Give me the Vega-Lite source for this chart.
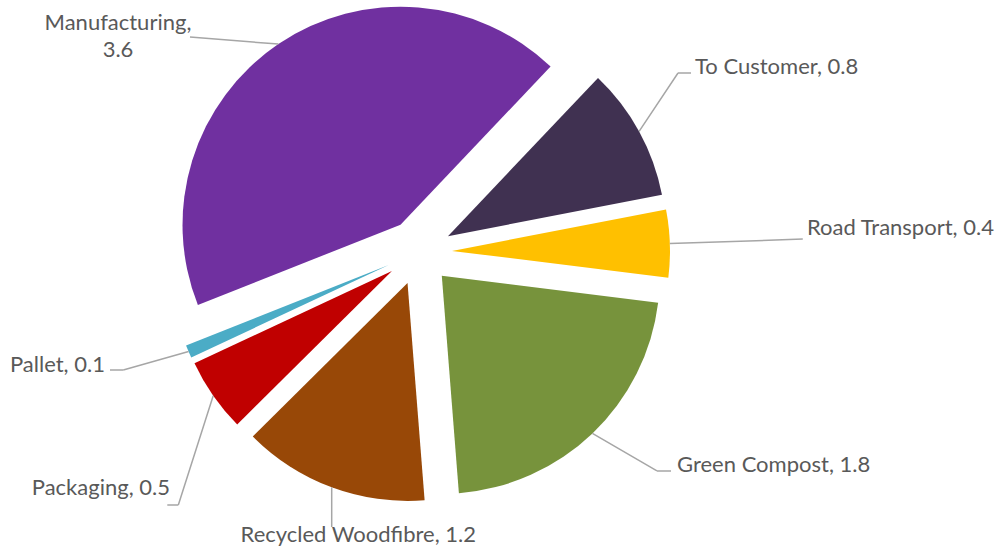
{
  "$schema": "https://vega.github.io/schema/vega-lite/v6.json",
  "width": 838,
  "height": 504,
  "autosize": {"type": "none"},
  "padding": {"left": 0, "top": 0, "right": 166, "bottom": 47},
  "background": "white",
  "config": {
    "view": {"stroke": null},
    "text": {"font": "Lato", "fontSize": 22, "color": "#595959"}
  },
  "data": {
    "values": [
      {"category": "To Customer", "value": 0.83},
      {"category": "Road Transport", "value": 0.42},
      {"category": "Green Compost", "value": 1.83},
      {"category": "Recycled Woodfibre", "value": 1.16},
      {"category": "Packaging", "value": 0.46},
      {"category": "Pallet", "value": 0.08},
      {"category": "Manufacturing", "value": 3.62}
    ]
  },
  "transform": [{"window": [{"op": "row_number", "as": "idx"}]}],
  "encoding": {
    "theta": {"field": "value", "type": "quantitative", "stack": true, "scale": {"domain": [0, 8.4], "range": [0.75922, 7.04241]}},
    "order": {"field": "idx", "type": "quantitative"}
  },
  "layer": [
    {"mark": {"type": "arc", "radius": 218, "xOffset": 28.94, "yOffset": -15.86},
     "encoding": {"color": {"field": "category", "type": "nominal", "legend": null, "scale": {"domain": ["To Customer","Road Transport","Green Compost","Recycled Woodfibre","Packaging","Pallet","Manufacturing"], "range": ["#403151","#FFC000","#77933C","#984807","#C00000","#4BACC6","#7030A0"]}},
       "opacity": {"condition": {"test": "datum.category === 'To Customer'", "value": 1}, "value": 0}}},
    {"mark": {"type": "arc", "radius": 218, "xOffset": 32.98, "yOffset": -1.11},
     "encoding": {"color": {"field": "category", "type": "nominal", "legend": null},
       "opacity": {"condition": {"test": "datum.category === 'Road Transport'", "value": 1}, "value": 0}}},
    {"mark": {"type": "arc", "radius": 218, "xOffset": 22.80, "yOffset": 23.85},
     "encoding": {"color": {"field": "category", "type": "nominal", "legend": null},
       "opacity": {"condition": {"test": "datum.category === 'Green Compost'", "value": 1}, "value": 0}}},
    {"mark": {"type": "arc", "radius": 218, "xOffset": -11.48, "yOffset": 30.94},
     "encoding": {"color": {"field": "category", "type": "nominal", "legend": null},
       "opacity": {"condition": {"test": "datum.category === 'Recycled Woodfibre'", "value": 1}, "value": 0}}},
    {"mark": {"type": "arc", "radius": 218, "xOffset": -27.06, "yOffset": 18.89},
     "encoding": {"color": {"field": "category", "type": "nominal", "legend": null},
       "opacity": {"condition": {"test": "datum.category === 'Packaging'", "value": 1}, "value": 0}}},
    {"mark": {"type": "arc", "radius": 218, "xOffset": -30.30, "yOffset": 13.08},
     "encoding": {"color": {"field": "category", "type": "nominal", "legend": null},
       "opacity": {"condition": {"test": "datum.category === 'Pallet'", "value": 1}, "value": 0}}},
    {"mark": {"type": "arc", "radius": 218, "xOffset": -18.48, "yOffset": -27.34},
     "encoding": {"color": {"field": "category", "type": "nominal", "legend": null},
       "opacity": {"condition": {"test": "datum.category === 'Manufacturing'", "value": 1}, "value": 0}}},

    {"mark": {"type": "arc", "filled": false, "stroke": "#A6A6A6", "strokeWidth": 1.5, "strokeJoin": "bevel", "padAngle": 3.1416, "radius": 88.7, "radius2": 0, "thetaOffset": -0.8960, "theta2Offset": -0.8960, "xOffset": -140.6, "yOffset": -207.9},
     "encoding": {"strokeOpacity": {"condition": {"test": "datum.category === 'Manufacturing'", "value": 1}, "value": 0}}},
    {"mark": {"type": "arc", "filled": false, "stroke": "#A6A6A6", "strokeWidth": 1.5, "strokeJoin": "bevel", "padAngle": 3.1416, "radius": 70.2, "radius2": 0, "thetaOffset": -0.4820, "theta2Offset": -0.4820, "xOffset": 220.1, "yOffset": -120.6},
     "encoding": {"strokeOpacity": {"condition": {"test": "datum.category === 'To Customer'", "value": 1}, "value": 0}}},
    {"mark": {"type": "arc", "filled": false, "stroke": "#A6A6A6", "strokeWidth": 1.5, "strokeJoin": "bevel", "padAngle": 3.1416, "radius": 13, "radius2": 0, "thetaOffset": 0.5011, "theta2Offset": 0.5011, "xOffset": 259, "yOffset": -179},
     "encoding": {"strokeOpacity": {"condition": {"test": "datum.category === 'To Customer'", "value": 1}, "value": 0}}},
    {"mark": {"type": "arc", "filled": false, "stroke": "#A6A6A6", "strokeWidth": 1.5, "strokeJoin": "bevel", "padAngle": 3.1416, "radius": 384, "radius2": 251},
     "encoding": {"strokeOpacity": {"condition": {"test": "datum.category === 'Road Transport'", "value": 1}, "value": 0}}},
    {"mark": {"type": "arc", "filled": false, "stroke": "#A6A6A6", "strokeWidth": 1.5, "strokeJoin": "bevel", "padAngle": 3.1416, "radius": 74.7, "radius2": 0, "thetaOffset": -0.2808, "theta2Offset": -0.2808, "xOffset": 173.4, "yOffset": 181.4},
     "encoding": {"strokeOpacity": {"condition": {"test": "datum.category === 'Green Compost'", "value": 1}, "value": 0}}},
    {"mark": {"type": "arc", "filled": false, "stroke": "#A6A6A6", "strokeWidth": 1.5, "strokeJoin": "bevel", "padAngle": 3.1416, "radius": 14, "radius2": 0, "thetaOffset": -0.8079, "theta2Offset": -0.8079, "xOffset": 238, "yOffset": 219},
     "encoding": {"strokeOpacity": {"condition": {"test": "datum.category === 'Green Compost'", "value": 1}, "value": 0}}},
    {"mark": {"type": "arc", "filled": false, "stroke": "#A6A6A6", "strokeWidth": 1.5, "strokeJoin": "bevel", "padAngle": 3.1416, "radius": 39.7, "radius2": 0, "thetaOffset": -0.3553, "theta2Offset": -0.3553, "xOffset": -87.3, "yOffset": 235.3},
     "encoding": {"strokeOpacity": {"condition": {"test": "datum.category === 'Recycled Woodfibre'", "value": 1}, "value": 0}}},
    {"mark": {"type": "arc", "filled": false, "stroke": "#A6A6A6", "strokeWidth": 1.5, "strokeJoin": "bevel", "padAngle": 3.1416, "radius": 114.7, "radius2": 0, "thetaOffset": -0.6521, "theta2Offset": -0.6521, "xOffset": -205.8, "yOffset": 143.7},
     "encoding": {"strokeOpacity": {"condition": {"test": "datum.category === 'Packaging'", "value": 1}, "value": 0}}},
    {"mark": {"type": "arc", "filled": false, "stroke": "#A6A6A6", "strokeWidth": 1.5, "strokeJoin": "bevel", "padAngle": 3.1416, "radius": 11, "radius2": 0, "thetaOffset": 0.6096, "theta2Offset": 0.6096, "xOffset": -240.7, "yOffset": 253},
     "encoding": {"strokeOpacity": {"condition": {"test": "datum.category === 'Packaging'", "value": 1}, "value": 0}}},
    {"mark": {"type": "arc", "filled": false, "stroke": "#A6A6A6", "strokeWidth": 1.5, "strokeJoin": "bevel", "padAngle": 3.1416, "radius": 67.9, "radius2": 0, "thetaOffset": 0.1316, "theta2Offset": 0.1316, "xOffset": -230.4, "yOffset": 99.5},
     "encoding": {"strokeOpacity": {"condition": {"test": "datum.category === 'Pallet'", "value": 1}, "value": 0}}},
    {"mark": {"type": "arc", "filled": false, "stroke": "#A6A6A6", "strokeWidth": 1.5, "strokeJoin": "bevel", "padAngle": 3.1416, "radius": 13.3, "radius2": 0, "thetaOffset": 0.4077, "theta2Offset": 0.4077, "xOffset": -295.7, "yOffset": 118},
     "encoding": {"strokeOpacity": {"condition": {"test": "datum.category === 'Pallet'", "value": 1}, "value": 0}}},

    {"mark": {"type": "text", "radius": 251, "dx": -160.4, "dy": -13.6, "align": "center", "baseline": "alphabetic", "lineBreak": "\n", "lineHeight": 26.5,
      "text": {"expr": "datum.category === 'Manufacturing' ? datum.category + ',\\n' + format(datum.value, '.1f') : ''"}}},
    {"mark": {"type": "text", "radius": 251, "dx": 55.9, "dy": -57.4, "align": "left", "baseline": "alphabetic",
      "text": {"expr": "datum.category === 'To Customer' ? datum.category + ', ' + format(datum.value, '.1f') : ''"}}},
    {"mark": {"type": "text", "radius": 251, "dx": 137.1, "dy": -8.6, "align": "left", "baseline": "alphabetic",
      "text": {"expr": "datum.category === 'Road Transport' ? datum.category + ', ' + format(datum.value, '.1f') : ''"}}},
    {"mark": {"type": "text", "radius": 251, "dx": 84.6, "dy": 38.6, "align": "left", "baseline": "alphabetic",
      "text": {"expr": "datum.category === 'Green Compost' ? datum.category + ', ' + format(datum.value, '.1f') : ''"}}},
    {"mark": {"type": "text", "radius": 251, "dx": 26.6, "dy": 54.7, "align": "center", "baseline": "alphabetic",
      "text": {"expr": "datum.category === 'Recycled Woodfibre' ? datum.category + ', ' + format(datum.value, '.1f') : ''"}}},
    {"mark": {"type": "text", "radius": 251, "dx": -43.2, "dy": 99.3, "align": "right", "baseline": "alphabetic",
      "text": {"expr": "datum.category === 'Packaging' ? datum.category + ', ' + format(datum.value, '.1f') : ''"}}},
    {"mark": {"type": "text", "radius": 251, "dx": -83.6, "dy": 20.5, "align": "right", "baseline": "alphabetic",
      "text": {"expr": "datum.category === 'Pallet' ? datum.category + ', ' + format(datum.value, '.1f') : ''"}}}
  ]
}
